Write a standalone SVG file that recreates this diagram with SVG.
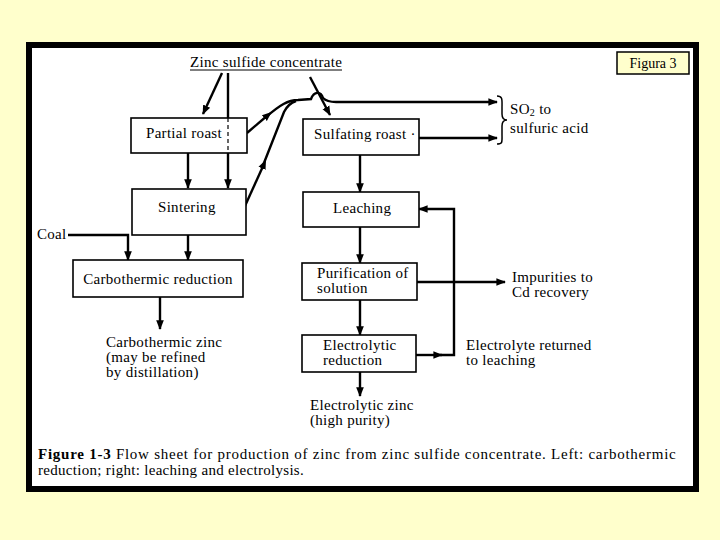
<svg xmlns="http://www.w3.org/2000/svg" width="720" height="540" viewBox="0 0 720 540">
<defs>
<marker id="ah" viewBox="0 0 10 10" refX="9" refY="5" markerWidth="4" markerHeight="4" orient="auto" markerUnits="strokeWidth">
<path d="M0,1 L10,5 L0,9 Z" fill="#000"/>
</marker>
<marker id="mid" viewBox="0 0 10 10" refX="5" refY="5" markerWidth="4" markerHeight="4" orient="auto" markerUnits="strokeWidth">
<path d="M0,1 L10,5 L0,9 Z" fill="#000"/>
</marker>
<style>
.box{fill:#fff;stroke:#000;stroke-width:1.6}
.t{font-family:"Liberation Serif","Times New Roman",serif;font-size:15px;letter-spacing:0.3px;fill:#000}
.c{text-anchor:middle}
.ln{fill:none;stroke:#000;stroke-width:2.4}
.thin{fill:none;stroke:#000;stroke-width:1.5}
</style>
</defs>
<rect x="0" y="0" width="720" height="540" fill="#FFFFCC"/>
<rect x="29" y="45" width="667" height="444" fill="#fff" stroke="#000" stroke-width="6"/>

<g id="figura">
<rect x="617" y="52" width="72" height="22" fill="#FFFFCC" stroke="#000" stroke-width="1.5"/>
<text class="t c" x="653" y="68" style="font-size:14px;letter-spacing:0">Figura 3</text>
</g>

<g id="connectors">
<line class="ln" x1="222" y1="73" x2="203" y2="114" marker-end="url(#ah)"/>
<line class="ln" x1="228" y1="73" x2="228" y2="118"/>
<line class="ln" x1="228" y1="153" x2="228" y2="188" marker-end="url(#ah)"/>
<line class="ln" x1="188" y1="153" x2="188" y2="188" marker-end="url(#ah)"/>
<line class="ln" x1="310" y1="77" x2="330" y2="115" marker-end="url(#ah)"/>
<path class="ln" d="M247,133 L268,115" marker-end="url(#mid)"/>
<path class="ln" d="M266,117 C280,105 288,100 298,100 L311,99 C314,91 321,91 323,98 C326,101 330,102 336,102 L497,102" marker-end="url(#ah)"/>
<path class="ln" d="M245,206 L264,164" marker-end="url(#mid)"/>
<path class="ln" d="M262,168 L284,112 C287,106 290,103 296,101"/>
<line class="ln" x1="419" y1="138" x2="497" y2="138" marker-end="url(#ah)"/>
<path class="thin" d="M497,96 C503,96 502,100 502,108 L502,114 C502,118 504,120 507,120 C504,120 502,122 502,126 L502,134 C502,142 503,144 497,144"/>
<line class="ln" x1="360" y1="155" x2="360" y2="192" marker-end="url(#ah)"/>
<line class="ln" x1="360" y1="227" x2="360" y2="263" marker-end="url(#ah)"/>
<line class="ln" x1="360" y1="300" x2="360" y2="335" marker-end="url(#ah)"/>
<line class="ln" x1="360" y1="372" x2="360" y2="396" marker-end="url(#ah)"/>
<line class="ln" x1="417" y1="282" x2="505" y2="282" marker-end="url(#ah)"/>
<path class="ln" d="M416,355 L442,355" marker-end="url(#ah)"/>
<path class="ln" d="M440,355 L454,355 L454,209 L419,209" marker-end="url(#ah)"/>
<path class="ln" d="M68,235 L128,235 L128,260" marker-end="url(#ah)"/>
<line class="ln" x1="188" y1="235" x2="188" y2="260" marker-end="url(#ah)"/>
<line class="ln" x1="160" y1="297" x2="160" y2="329" marker-end="url(#ah)"/>
</g>

<g id="title">
<text class="t" x="190" y="67">Zinc sulfide concentrate</text>
<line x1="190" y1="70" x2="342" y2="70" stroke="#000" stroke-width="1"/>
</g>

<g id="partial-roast">
<rect class="box" x="131" y="118" width="116" height="35"/>
<line x1="228" y1="118" x2="228" y2="153" stroke="#000" stroke-width="1.2" stroke-dasharray="4,3"/>
<text class="t" x="146" y="138">Partial roast</text>
</g>

<g id="sintering">
<rect class="box" x="132" y="189" width="114" height="46"/>
<text class="t" x="158" y="212">Sintering</text>
</g>

<g id="sulfating-roast">
<rect class="box" x="303" y="119" width="116" height="36"/>
<text class="t" x="314" y="139">Sulfating roast ·</text>
</g>

<g id="so2">
<text class="t" x="510" y="114">SO<tspan dy="2" style="font-size:10px">2</tspan><tspan dy="-2"> to</tspan></text>
<text class="t" x="510" y="133">sulfuric acid</text>
</g>

<g id="leaching">
<rect class="box" x="303" y="192" width="116" height="35"/>
<text class="t" x="333" y="213">Leaching</text>
</g>

<g id="coal">
<text class="t" x="37" y="239">Coal</text>
</g>

<g id="carbothermic-reduction">
<rect class="box" x="73" y="260" width="170" height="37"/>
<text class="t c" x="158" y="284">Carbothermic reduction</text>
</g>

<g id="carbothermic-zinc">
<text class="t" x="106" y="347">Carbothermic zinc</text>
<text class="t" x="106" y="362">(may be refined</text>
<text class="t" x="106" y="377">by distillation)</text>
</g>

<g id="purification">
<rect class="box" x="302" y="263" width="115" height="37"/>
<text class="t" x="317" y="278">Purification of</text>
<text class="t" x="317" y="293">solution</text>
</g>

<g id="impurities">
<text class="t" x="512" y="282">Impurities to</text>
<text class="t" x="512" y="297">Cd recovery</text>
</g>

<g id="electrolytic-reduction">
<rect class="box" x="302" y="335" width="114" height="37"/>
<text class="t" x="323" y="350">Electrolytic</text>
<text class="t" x="323" y="365">reduction</text>
</g>

<g id="electrolyte-returned">
<text class="t" x="466" y="350">Electrolyte returned</text>
<text class="t" x="466" y="365">to leaching</text>
</g>

<g id="electrolytic-zinc">
<text class="t" x="310" y="410">Electrolytic zinc</text>
<text class="t" x="310" y="425">(high purity)</text>
</g>

<g id="caption">
<text class="t" x="38" y="459" textLength="638" lengthAdjust="spacing"><tspan font-weight="bold">Figure 1-3</tspan> Flow sheet for production of zinc from zinc sulfide concentrate. Left: carbothermic</text>
<text class="t" x="38" y="475">reduction; right: leaching and electrolysis.</text>
</g>
</svg>
